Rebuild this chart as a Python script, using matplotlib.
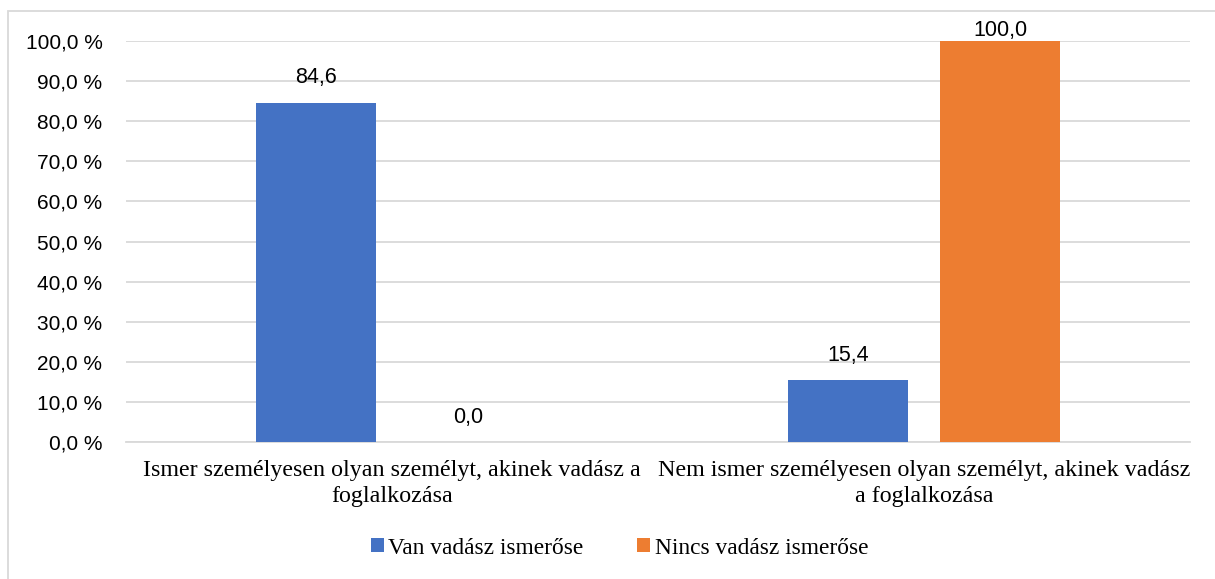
import numpy as np
import matplotlib.pyplot as plt
from matplotlib.patches import Rectangle

# data
categories = ["Ismer személyesen olyan személyt, akinek vadász a\nfoglalkozása",
              "Nem ismer személyesen olyan személyt, akinek vadász\na foglalkozása"]
series_names = ["Van vadász ismerőse", "Nincs vadász ismerőse"]
van_values = [84.6, 15.4]
nincs_values = [0.0, 100.0]
yticks = np.arange(0, 101, 10)

colors = ["#4472C4", "#ED7D31"]
grid_color = "#D9D9D9"
sans = ["Liberation Sans", "DejaVu Sans"]
serif = ["Liberation Serif", "DejaVu Serif"]

fig = plt.figure(figsize=(12.15, 5.79), dpi=100)
ax = fig.add_axes([126/1215, 137/579, 1064/1215, 401/579])

# light frame around the whole chart
fig.patches.append(Rectangle((8/1215, -0.01), 1.0, (579-11)/579 + 0.01, transform=fig.transFigure,
                             fill=False, edgecolor=grid_color, linewidth=1.3))

x = np.arange(len(categories))
width = 0.224
offset = 0.143
for i, (vals, name) in enumerate([(van_values, series_names[0]), (nincs_values, series_names[1])]):
  pos = x + (i*2 - 1)*offset
  ax.bar(pos, vals, width, color=colors[i], label=name, zorder=3)
  for p, v in zip(pos, vals):
    ax.text(p, min(v + 6.2, 102.6), "{:.1f}".format(v).replace(".", ","),
            ha="center", va="center", fontsize=15.5, family=sans, color="#000000")

ax.set_xlim(-0.5, 1.5)
ax.set_ylim(0, 100)
ax.set_yticks(yticks)
ax.set_yticklabels(["{:.1f} %".format(t).replace(".", ",") for t in yticks], family=sans, fontsize=15)
ax.set_xticks(x)
ax.set_xticklabels(categories, family=serif, fontsize=17.3, linespacing=1.3)
ax.tick_params(axis="y", length=0, pad=17)
ax.tick_params(axis="x", length=0, pad=13)
ax.grid(axis="y", color=grid_color, linewidth=1.3, zorder=0)
for s in ["left", "right", "top"]:
  ax.spines[s].set_visible(False)
ax.spines["bottom"].set_color(grid_color)
ax.spines["bottom"].set_linewidth(1.3)

fig.legend(loc="center", bbox_to_anchor=(0.51, 1 - 548/579), ncol=2, frameon=False,
           prop={"family": serif, "size": 16.8}, handlelength=0.55, handleheight=0.55,
           handletextpad=0.2, columnspacing=2.3)

plt.savefig("out.png", dpi=100)
